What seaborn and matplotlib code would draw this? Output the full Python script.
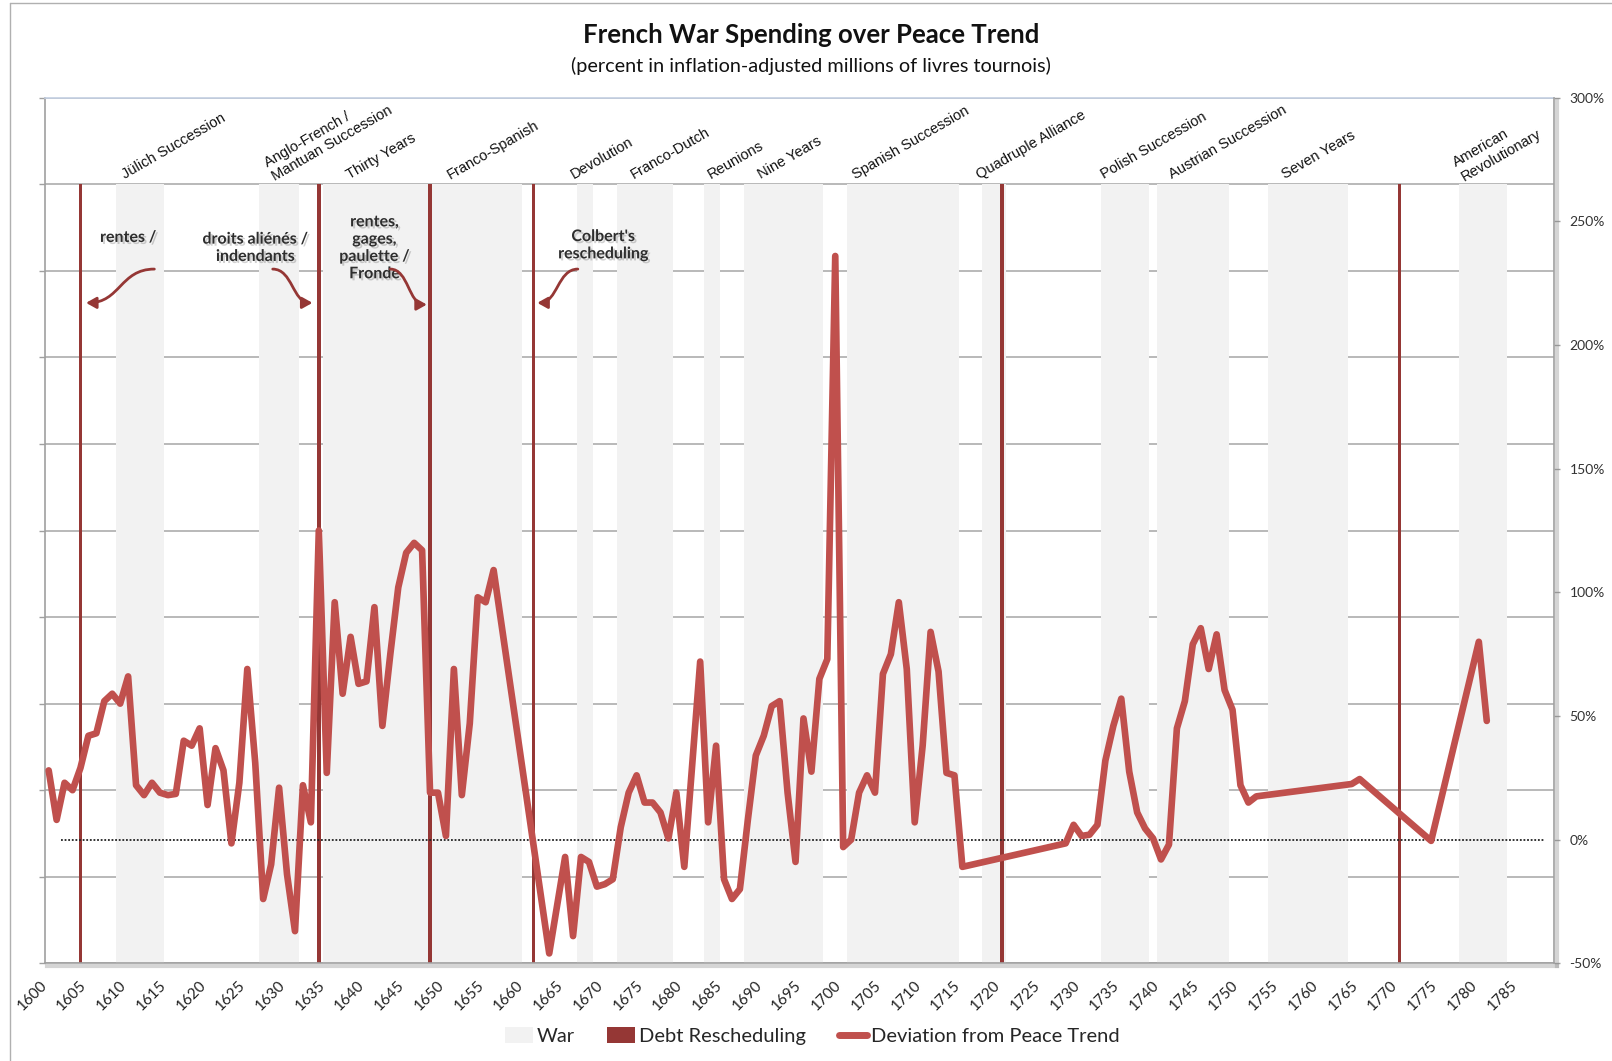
""" French war spending over peace trend """

import numpy as np
import pandas as pd

import matplotlib
matplotlib.use("Agg")
import matplotlib.pyplot as plt
import matplotlib.patheffects as pe
from matplotlib.patches import Patch, FancyArrowPatch
from matplotlib.lines import Line2D
from matplotlib.path import Path
from matplotlib.transforms import blended_transform_factory
import seaborn as sns


""" Data read off the chart """

war_names = ["Jülich Succession", "Anglo-French /\nMantuan Succession", "Thirty Years",
             "Franco-Spanish", "Devolution", "Franco-Dutch", "Reunions", "Nine Years",
             "Spanish Succession", "Quadruple Alliance", "Polish Succession",
             "Austrian Succession", "Seven Years", "American\nRevolutionary"]
war_start = [1609, 1627, 1635, 1648, 1667, 1672, 1683, 1688, 1701, 1718, 1733, 1740, 1754, 1778]
war_end = [1614, 1631, 1648, 1659, 1668, 1678, 1684, 1697, 1714, 1720, 1738, 1748, 1763, 1783]

debt_years = [1604, 1634, 1648, 1661, 1720, 1770]

years = [1600, 1601, 1602, 1603, 1604, 1605, 1606, 1607, 1608, 1609,
         1610, 1611, 1612, 1613, 1614, 1615, 1616, 1617, 1618, 1619,
         1620, 1621, 1622, 1623, 1624, 1625, 1626, 1627, 1628, 1629,
         1630, 1631, 1632, 1633, 1634, 1635, 1636, 1637, 1638, 1639,
         1640, 1641, 1642, 1643, 1644, 1645, 1646, 1647, 1648, 1649,
         1650, 1651, 1652, 1653, 1654, 1655, 1656, 1663, 1665, 1666,
         1667, 1668, 1669, 1670, 1671, 1672, 1673, 1674, 1675, 1676,
         1677, 1678, 1679, 1680, 1682, 1683, 1684, 1685, 1686, 1687,
         1688, 1689, 1690, 1691, 1692, 1693, 1694, 1695, 1696, 1697,
         1698, 1699, 1700, 1701, 1702, 1703, 1704, 1705, 1706, 1707,
         1708, 1709, 1710, 1711, 1712, 1713, 1714, 1715, 1728, 1729,
         1730, 1731, 1732, 1733, 1734, 1735, 1736, 1737, 1738, 1739,
         1740, 1741, 1742, 1743, 1744, 1745, 1746, 1747, 1748, 1749,
         1750, 1751, 1752, 1764, 1765, 1774, 1780, 1781]
deviation = [28, 8, 23, 20, 29, 42, 43, 56, 59, 55,
             66, 22, 18, 23, 19, 18, 18.5, 40, 38, 45,
             14, 37, 28, -1.5, 23, 69, 31, -24, -10, 21,
             -14, -37, 22, 7, 125, 27, 96, 59, 82, 63,
             64, 94, 46, 75, 102, 116, 120, 117, 19, 19,
             1.5, 69, 18, 47, 98, 96, 109, -46, -7, -39,
             -7, -9, -19, -18, -16, 5, 19, 26, 15, 15,
             11, 0.5, 19, -11, 72, 7, 38, -16, -24, -20,
             8, 34, 42, 54, 56, 19, -9, 49, 27.5, 65,
             73, 236, -3, 0, 19, 26, 19, 67, 75, 96,
             69, 7, 38, 84, 68, 27, 26, -11, -1.5, 6,
             1.5, 2, 6, 32, 46, 57, 27.5, 11, 4.5, 0.5,
             -8, -2, 45, 56, 79, 85.5, 69, 83, 60.5, 52.5,
             22, 15, 17.5, 22.5, 24.5, -0.5, 80, 48]

# annotation texts next to the debt reschedulings
notes = ["rentes /", "droits aliénés /\nindendants", "rentes,\ngages,\npaulette /\nFronde",
         "Colbert's\nrescheduling"]

DevDf = pd.DataFrame({"year": years, "deviation": deviation})
war_years = sorted(set(y for s, e in zip(war_start, war_end) for y in range(s, e + 1)))


""" Layout helpers (not data) """

label_x = [1609.6, 1628.4, 1637.9, 1650.5, 1666.1, 1673.7, 1683.3, 1689.6,
           1701.5, 1717.2, 1732.8, 1741.4, 1755.6, 1778.0]
note_xy = [(1610.0, 8.38), (1626.0, 8.26), (1641.0, 8.26), (1669.8, 8.29)]
arrow_tail = [(1613.3, 8.02), (1628.2, 8.02), (1643.0, 8.02), (1666.6, 8.02)]
arrow_head = [(1604.7, 7.63), (1633.2, 7.63), (1647.6, 7.61), (1661.5, 7.63)]

RED = "#c0504d"
DARK = "#953735"
GRAY = "#f2f2f2"

sns.set_style("white")
plt.rcParams['font.family'] = ['Lato', 'DejaVu Sans']

fig = plt.figure(figsize=(16.12, 10.61), dpi=100)
ax = fig.add_axes([44.7 / 1612, 1 - 963.3 / 1061, (1554.3 - 44.7) / 1612, (963.3 - 97.7) / 1061])

# war and debt bars on the hidden left scale (0-10)
ax.bar(war_years, [9] * len(war_years), width=1.04, color=GRAY, linewidth=0, zorder=1)
ax.bar(debt_years, [9] * len(debt_years), width=0.45, color=DARK, linewidth=0, zorder=2)
ax.set_ylim(0, 10)
ax.set_yticks(range(0, 11))
ax.set_yticklabels([])
ax.yaxis.grid(True, color="#a6a6a6", lw=1.1)
ax.set_axisbelow(True)

for side in ["left", "bottom"]:
    ax.spines[side].set_color("#a0a0a0")
    ax.spines[side].set_linewidth(1.2)
ax.spines["top"].set_color("#c3cfe2")
ax.spines["top"].set_linewidth(1.2)
ax.spines["right"].set_visible(False)
ax.spines["bottom"].set_path_effects([pe.SimpleLineShadow(offset=(2, -2), shadow_color="#888888",
                                                          alpha=0.35, linewidth=3), pe.Normal()])

# deviation line on the right scale
ax2 = ax.twinx()
sns.lineplot(data=DevDf, x="year", y="deviation", ax=ax2, color=RED, lw=4.8,
             solid_capstyle="round", solid_joinstyle="round", zorder=5)
ax2.plot([1601.6, 1788.2], [0, 0], color="#222222", lw=1.3, ls=(0, (1, 1)), zorder=4)
ax2.set_ylim(-50, 300)
ax2.set_yticks(range(-50, 301, 50))
ax2.set_yticklabels([f"{v}%" for v in range(-50, 301, 50)], fontsize=10, color="#333333")
ax2.tick_params(axis="y", direction="out", length=4, width=1, color="#a0a0a0", pad=7)
ax2.set_xlabel("")
ax2.set_ylabel("")
for side in ["left", "top", "bottom"]:
    ax2.spines[side].set_visible(False)
ax2.spines["right"].set_color("#a0a0a0")
ax2.spines["right"].set_linewidth(1.2)
ax2.spines["right"].set_path_effects([pe.SimpleLineShadow(offset=(2, -2), shadow_color="#888888",
                                                          alpha=0.35, linewidth=3), pe.Normal()])

# x axis ticks, set after the twin so nothing resets them
ax.set_xlim(1599.5, 1789.5)
ax.set_xticks(np.arange(1600, 1786, 5) - 0.5)
ax.set_xticklabels([str(y) for y in range(1600, 1786, 5)], fontsize=11, color="#222222",
                   rotation=45, ha="right", va="center", rotation_mode="anchor")
ax.set_xticks(np.arange(1600, 1791, 2.5) - 0.5, minor=True)
ax.tick_params(axis="x", which="both", direction="inout", length=7, width=1, color="#a0a0a0",
               pad=11)
ax.tick_params(axis="y", direction="out", length=4, width=1, color="#a0a0a0", left=True)
for lbl in ax.get_xticklabels():
    lbl.set_rotation(45)
    lbl.set_ha("right")
    lbl.set_va("center")
    lbl.set_rotation_mode("anchor")

# war names above the bars
trans = blended_transform_factory(ax.transData, ax.transAxes)
for name, x in zip(war_names, label_x):
    ax.text(x, 0.906, name, transform=trans, rotation=30, rotation_mode="anchor",
            ha="left", va="baseline", fontsize=10.5, family="Liberation Sans", color="#111111")

# annotations with curly arrows
shadow = [pe.withSimplePatchShadow(offset=(1.5, -1.5), shadow_rgbFace="#000000", alpha=0.18)]
for text, (x, y) in zip(notes, note_xy):
    ax.text(x, y, text, ha="center", va="center", fontsize=11.5, fontweight="bold",
            color="#2e2e2e", linespacing=1.3, zorder=6, path_effects=shadow)
for tail, head in zip(arrow_tail, arrow_head):
    xm = (tail[0] + head[0]) / 2
    path = Path([tail, (xm, tail[1]), (xm, head[1]), head],
                [Path.MOVETO, Path.CURVE4, Path.CURVE4, Path.CURVE4])
    arrow = FancyArrowPatch(path=path, arrowstyle="-|>,head_length=0.5,head_width=0.28",
                            mutation_scale=12, lw=2, color=DARK, transform=ax.transData,
                            zorder=6)
    ax.add_patch(arrow)

# titles
fig.text(811 / 1612, 1 - 35 / 1061, "French War Spending over Peace Trend", ha="center",
         va="center", fontsize=18.5, fontweight="bold", color="#111111")
fig.text(811 / 1612, 1 - 66 / 1061, "(percent in inflation-adjusted millions of livres tournois)",
         ha="center", va="center", fontsize=14.3, color="#111111")

# legend
handles = [Patch(facecolor=GRAY, edgecolor="none"), Patch(facecolor=DARK, edgecolor="none"),
           Line2D([0], [0], color=RED, lw=5, solid_capstyle="round")]
fig.legend(handles, ["War", "Debt Rescheduling", "Deviation from Peace Trend"], ncol=3,
           loc="center", bbox_to_anchor=(812 / 1612, 1 - 1036 / 1061), frameon=False,
           fontsize=14.5, handlelength=1.4, handleheight=0.8, handletextpad=0.2,
           columnspacing=1.6)

# chart border
fig.add_artist(Line2D([9.5 / 1612, 9.5 / 1612], [0, 1 - 3 / 1061], transform=fig.transFigure,
                      color="#b0b0b0", lw=1))
fig.add_artist(Line2D([9.5 / 1612, 1], [1 - 3 / 1061, 1 - 3 / 1061], transform=fig.transFigure,
                      color="#b0b0b0", lw=1))

fig.savefig("out.png", dpi=100)
